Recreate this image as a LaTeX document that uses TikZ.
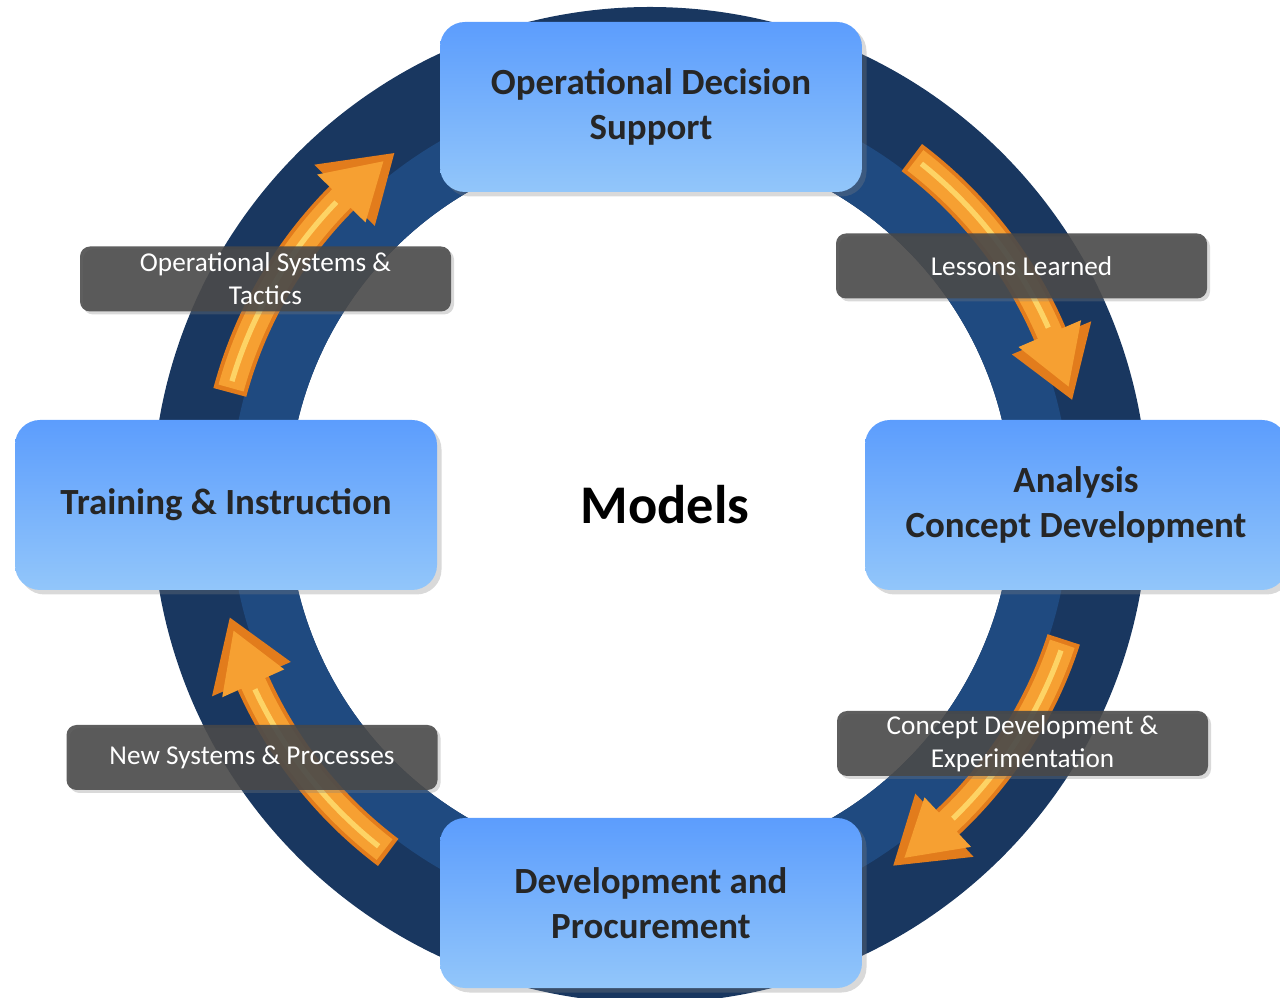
\documentclass[tikz,border=0pt]{standalone}
\usepackage{fontspec}
\setmainfont{Carlito}
\usetikzlibrary{positioning,shapes,shadows,calc}
\definecolor{ringdark}{RGB}{25,55,96}
\definecolor{ringlight}{RGB}{31,74,128}
\definecolor{boxtop}{RGB}{92,157,253}
\definecolor{boxbottom}{RGB}{146,198,250}
\definecolor{arroworange}{RGB}{246,160,50}
\definecolor{arrowdark}{RGB}{226,124,28}
\definecolor{arrowlight}{RGB}{255,220,110}
\definecolor{textdark}{RGB}{38,38,38}
\definecolor{labelgray}{RGB}{72,72,72}

% curved arrow on the ring: #1 tail angle, #2 tip angle (clockwise)
\newcommand{\ringarrow}[2]{%
  \pgfmathsetmacro{\arrbase}{#2+8.6}%
  \pgfmathsetmacro{\arrtaili}{#1-0.6}%
  \pgfmathsetmacro{\arrbasei}{#2+9.2}%
  \pgfmathsetmacro{\arrtipi}{#2+1.8}%
  \pgfmathsetmacro{\arrhla}{#1-1.5}%
  \pgfmathsetmacro{\arrhlb}{#2+10}%
  \fill[arrowdark] ([shift={(#1:9.04)}]c) arc[start angle=#1, end angle=\arrbase, radius=9.04]
    -- ([shift={(\arrbase:9.56)}]c) -- ([shift={(#2:8.7)}]c) -- ([shift={(\arrbase:7.84)}]c)
    -- ([shift={(\arrbase:8.36)}]c) arc[start angle=\arrbase, end angle=#1, radius=8.36] -- cycle;
  \fill[arroworange] ([shift={(\arrtaili:8.96)}]c) arc[start angle=\arrtaili, end angle=\arrbasei, radius=8.96]
    -- ([shift={(\arrbasei:9.38)}]c) -- ([shift={(\arrtipi:8.7)}]c) -- ([shift={(\arrbasei:8.02)}]c)
    -- ([shift={(\arrbasei:8.44)}]c) arc[start angle=\arrbasei, end angle=\arrtaili, radius=8.44] -- cycle;
  \draw[arrowlight, line width=3pt, opacity=0.85] ([shift={(\arrhla:8.72)}]c) arc[start angle=\arrhla, end angle=\arrhlb, radius=8.72];
}

\begin{document}
\begin{tikzpicture}[
    stagebox/.style={rectangle, rounded corners=0.5cm, minimum width=8.44cm, minimum height=3.4cm,
        inner sep=0pt, top color=boxtop, bottom color=boxbottom, text=textdark, align=center,
        font=\bfseries\fontsize{21}{25.5}\selectfont,
        drop shadow={opacity=0.3, shadow xshift=0.09cm, shadow yshift=-0.09cm}},
    notebox/.style={rectangle, rounded corners=0.2cm, minimum width=7.42cm, minimum height=1.3cm,
        inner sep=0pt, fill=labelgray, fill opacity=0.88, text opacity=1, text=white, align=center,
        font=\fontsize{15.5}{18.7}\selectfont,
        drop shadow={opacity=0.3, shadow xshift=0.06cm, shadow yshift=-0.06cm}}]

    \useasboundingbox (0,0) rectangle (25.6,19.94);
    \clip (0,0) rectangle (25.6,19.94);

    % ring
    \coordinate (c) at (13,9.84);
    \fill[ringdark, even odd rule] (c) circle[radius=9.96] (c) circle[radius=7.24];
    \fill[ringlight, even odd rule] (c) circle[radius=8.4] (c) circle[radius=7.24];

    % arrows
    \ringarrow{53}{14}
    \ringarrow{-18}{-56}
    \ringarrow{233}{195}
    \ringarrow{165}{126}

    % stages
    \node[stagebox] (ods) at (13.02,17.8) {Operational Decision\\Support};
    \node[stagebox] (acd) at (21.52,9.84) {Analysis\\Concept Development};
    \node[stagebox] (dap) at (13.02,1.88) {Development and\\Procurement};
    \node[stagebox] (tai) at (4.52,9.84) {Training \& Instruction};

    % labels
    \node[notebox] (ll) at (20.43,14.62) {Lessons Learned};
    \node[notebox] (cde) at (20.45,5.07) {Concept Development \&\\Experimentation};
    \node[notebox] (nsp) at (5.04,4.79) {New Systems \& Processes};
    \node[notebox] (ost) at (5.31,14.36) {Operational Systems \&\\Tactics};

    \node[font=\bfseries\fontsize{31}{37}\selectfont] (models) at (13.3,9.84) {Models};
\end{tikzpicture}
\end{document}
